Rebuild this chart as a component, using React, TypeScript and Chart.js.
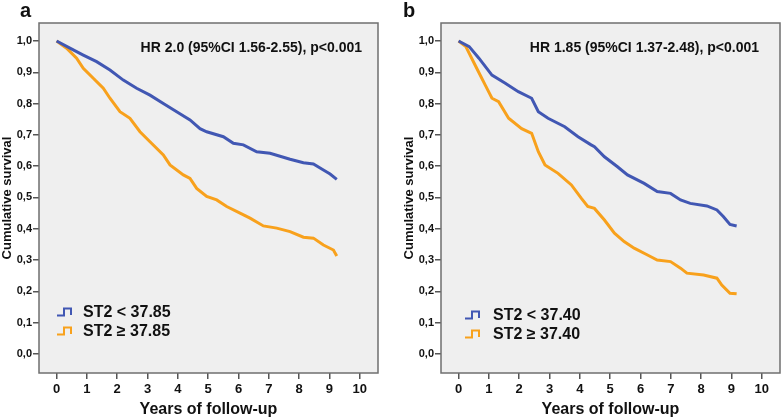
import React, { useEffect, useRef } from "react";
import { Chart, registerables } from "chart.js";

Chart.register(...registerables);

const FONT = "'Liberation Sans', Arial, Helvetica, sans-serif";

// Shared axis ticks
const X_TICKS = [0, 1, 2, 3, 4, 5, 6, 7, 8, 9, 10];
const Y_TICKS = [0, 0.1, 0.2, 0.3, 0.4, 0.5, 0.6, 0.7, 0.8, 0.9, 1.0];

// Panel a
const A_LABEL = "a";
const A_HR = "HR 2.0 (95%CI 1.56-2.55), p<0.001";
const A_SERIES = ["ST2 < 37.85", "ST2 \u2265 37.85"];
const A_LOW_T = [0, 0.44, 0.88, 1.32, 1.76, 2.2, 2.64, 3.08, 3.52, 3.96, 4.4, 4.73, 4.95, 5.5, 5.83, 6.16, 6.6, 7.04, 7.7, 8.14, 8.47, 8.8, 9.02, 9.24];
const A_LOW_S = [1.0, 0.977, 0.955, 0.934, 0.907, 0.875, 0.849, 0.827, 0.8, 0.774, 0.748, 0.72, 0.71, 0.694, 0.673, 0.668, 0.646, 0.641, 0.622, 0.611, 0.607, 0.588, 0.575, 0.558];
const A_HIGH_T = [0, 0.33, 0.66, 0.88, 1.21, 1.54, 1.76, 2.09, 2.42, 2.75, 3.08, 3.52, 3.74, 4.18, 4.4, 4.62, 4.95, 5.28, 5.61, 6.05, 6.38, 6.82, 7.26, 7.7, 8.14, 8.47, 8.8, 9.13, 9.24];
const A_HIGH_S = [1.0, 0.977, 0.945, 0.913, 0.881, 0.849, 0.817, 0.774, 0.753, 0.71, 0.678, 0.636, 0.604, 0.572, 0.561, 0.529, 0.503, 0.492, 0.471, 0.45, 0.434, 0.409, 0.402, 0.391, 0.373, 0.37, 0.348, 0.332, 0.313];

// Panel b
const B_LABEL = "b";
const B_HR = "HR 1.85 (95%CI 1.37-2.48), p<0.001";
const B_SERIES = ["ST2 < 37.40", "ST2 \u2265 37.40"];
const B_LOW_T = [0, 0.35, 0.67, 1.1, 1.54, 1.97, 2.41, 2.63, 2.95, 3.5, 3.94, 4.37, 4.48, 4.81, 5.24, 5.57, 6.12, 6.55, 6.99, 7.32, 7.64, 8.19, 8.52, 8.73, 8.95, 9.17];
const B_LOW_S = [1.0, 0.982, 0.945, 0.891, 0.865, 0.838, 0.817, 0.774, 0.753, 0.726, 0.694, 0.668, 0.662, 0.63, 0.598, 0.572, 0.545, 0.519, 0.513, 0.492, 0.481, 0.473, 0.46, 0.439, 0.414, 0.409];
const B_HIGH_T = [0, 0.24, 0.56, 0.88, 1.1, 1.32, 1.65, 2.08, 2.41, 2.63, 2.85, 3.28, 3.72, 4.05, 4.26, 4.48, 4.81, 5.14, 5.46, 5.79, 6.23, 6.55, 6.99, 7.32, 7.53, 8.08, 8.52, 8.68, 8.95, 9.17];
const B_HIGH_S = [1.0, 0.982, 0.92, 0.859, 0.817, 0.806, 0.753, 0.72, 0.705, 0.646, 0.604, 0.577, 0.54, 0.497, 0.471, 0.465, 0.428, 0.386, 0.359, 0.338, 0.316, 0.3, 0.295, 0.274, 0.258, 0.252, 0.242, 0.22, 0.194, 0.192];

const BLUE = "#4157b3";
const ORANGE = "#f8a11c";

type PanelCfg = {
  label: string;
  hr: string;
  series: string[];
  lowT: number[];
  lowS: number[];
  highT: number[];
  highS: number[];
  yAxisWidth: number;
  rightPad: number;
  yTitlePad: number;
  hrRight: number;
  labelX: number;
  iconDx: number;
  textDx: number;
  row1Dy: number;
  row2Dy: number;
};

const PANELS: PanelCfg[] = [
  {
    label: A_LABEL, hr: A_HR, series: A_SERIES,
    lowT: A_LOW_T, lowS: A_LOW_S, highT: A_HIGH_T, highS: A_HIGH_S,
    yAxisWidth: 39, rightPad: 14, yTitlePad: 0, hrRight: 16, labelX: 20,
    iconDx: 18, textDx: 44, row1Dy: -61, row2Dy: -42,
  },
  {
    label: B_LABEL, hr: B_HR, series: B_SERIES,
    lowT: B_LOW_T, lowS: B_LOW_S, highT: B_HIGH_T, highS: B_HIGH_S,
    yAxisWidth: 49, rightPad: 4, yTitlePad: 10, hrRight: 21, labelX: 11,
    iconDx: 24, textDx: 52, row1Dy: -58, row2Dy: -39,
  },
];

function toPoints(t: number[], s: number[]) {
  return t.map((x, i) => ({ x, y: s[i] }));
}

function makeDecorPlugin(cfg: PanelCfg) {
  return {
    id: "kmDecor",
    beforeDraw(chart: any) {
      const { ctx, chartArea: a } = chart;
      ctx.save();
      ctx.fillStyle = "#efefef";
      ctx.fillRect(a.left, a.top, a.right - a.left, a.bottom - a.top);
      ctx.restore();
    },
    afterDraw(chart: any) {
      const { ctx, chartArea: a } = chart;
      ctx.save();
      // frame
      ctx.strokeStyle = "#6f6f6f";
      ctx.lineWidth = 1.5;
      ctx.strokeRect(a.left, a.top, a.right - a.left, a.bottom - a.top);
      // panel letter
      ctx.fillStyle = "#111";
      ctx.font = `bold 20px ${FONT}`;
      ctx.textAlign = "left";
      ctx.textBaseline = "alphabetic";
      ctx.fillText(cfg.label, cfg.labelX, 17);
      // HR annotation
      ctx.font = `bold 14px ${FONT}`;
      ctx.textAlign = "right";
      ctx.textBaseline = "middle";
      ctx.fillText(cfg.hr, a.right - cfg.hrRight, a.top + 25);
      // legend
      const rows = [
        { dy: cfg.row1Dy, color: BLUE, text: cfg.series[0] },
        { dy: cfg.row2Dy, color: ORANGE, text: cfg.series[1] },
      ];
      rows.forEach((r) => {
        const y = a.bottom + r.dy;
        const x0 = a.left + cfg.iconDx;
        ctx.strokeStyle = r.color;
        ctx.lineWidth = 2;
        ctx.lineJoin = "miter";
        ctx.beginPath();
        ctx.moveTo(x0, y + 3.5);
        ctx.lineTo(x0 + 7, y + 3.5);
        ctx.lineTo(x0 + 7, y - 3.5);
        ctx.lineTo(x0 + 14, y - 3.5);
        ctx.lineTo(x0 + 14, y + 3);
        ctx.stroke();
        ctx.fillStyle = "#111";
        ctx.font = `bold 16px ${FONT}`;
        ctx.textAlign = "left";
        ctx.textBaseline = "middle";
        ctx.fillText(r.text, a.left + cfg.textDx, y + 1);
      });
      ctx.restore();
    },
  };
}

function KMPanel({ cfg }: { cfg: PanelCfg }) {
  const ref = useRef<HTMLCanvasElement | null>(null);
  useEffect(() => {
    if (!ref.current) return;
    const tickFont = (size: number) => ({ family: FONT, size, weight: "bold" as const });
    const chart = new Chart(ref.current, {
      type: "line",
      data: {
        datasets: [
          {
            label: cfg.series[0],
            data: toPoints(cfg.lowT, cfg.lowS),
            borderColor: BLUE,
            borderWidth: 3,
            pointRadius: 0,
            fill: false,
            tension: 0,
          },
          {
            label: cfg.series[1],
            data: toPoints(cfg.highT, cfg.highS),
            borderColor: ORANGE,
            borderWidth: 3,
            pointRadius: 0,
            fill: false,
            tension: 0,
          },
        ],
      },
      options: {
        animation: false,
        responsive: false,
        maintainAspectRatio: false,
        events: [],
        layout: { padding: { left: 0, top: 23, right: cfg.rightPad, bottom: 0 } },
        plugins: {
          legend: { display: false },
          tooltip: { enabled: false },
          title: { display: false },
        },
        scales: {
          x: {
            type: "linear",
            min: -0.58,
            max: 10.6,
            afterBuildTicks: (s: any) => {
              s.ticks = X_TICKS.map((v) => ({ value: v }));
            },
            afterFit: (s: any) => {
              s.height = 46;
            },
            ticks: {
              font: tickFont(13),
              color: "#111",
              padding: 3,
              maxRotation: 0,
              autoSkip: false,
              callback: (v: any) => String(v),
            },
            grid: {
              drawOnChartArea: false,
              drawTicks: true,
              tickLength: 6,
              color: "#555",
              lineWidth: 1.5,
            },
            border: { display: false },
            title: {
              display: true,
              text: "Years of follow-up",
              font: tickFont(16),
              color: "#111",
              padding: { top: 0, bottom: 0 },
            },
          },
          y: {
            type: "linear",
            min: -0.061,
            max: 1.0575,
            afterBuildTicks: (s: any) => {
              s.ticks = Y_TICKS.map((v) => ({ value: v }));
            },
            afterFit: (s: any) => {
              s.width = cfg.yAxisWidth;
            },
            ticks: {
              font: tickFont(11),
              color: "#111",
              padding: 1,
              autoSkip: false,
              callback: (v: any) => Number(v).toFixed(1).replace(".", ","),
            },
            grid: {
              drawOnChartArea: false,
              drawTicks: true,
              tickLength: 6,
              color: "#555",
              lineWidth: 1.5,
            },
            border: { display: false },
            title: {
              display: true,
              text: "Cumulative survival",
              font: tickFont(13),
              color: "#111",
              padding: { top: cfg.yTitlePad, bottom: 0 },
            },
          },
        },
      },
      plugins: [makeDecorPlugin(cfg)],
    } as any);
    return () => chart.destroy();
  }, [cfg]);
  return <canvas ref={ref} width={392} height={419} style={{ display: "block", width: 392, height: 419 }} />;
}

export default function App() {
  useEffect(() => {
    document.body.style.margin = "0";
    document.body.style.background = "#ffffff";
  }, []);
  return (
    <div style={{ position: "relative", width: 784, height: 419, display: "flex", background: "#fff" }}>
      {PANELS.map((p, i) => (
        <KMPanel key={i} cfg={p} />
      ))}
    </div>
  );
}
